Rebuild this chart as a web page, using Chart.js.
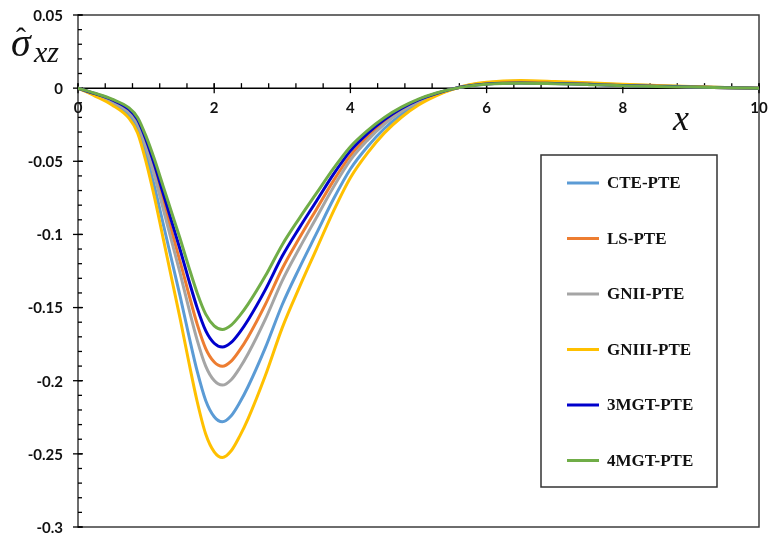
<!DOCTYPE html>
<html>
<head>
<meta charset="utf-8">
<script src="https://cdn.jsdelivr.net/npm/chart.js@4"></script>
<style>
  html, body { margin: 0; padding: 0; background: #fff; }
  #wrap { width: 769px; height: 534px; }
</style>
</head>
<body>
<div id="wrap"><canvas id="myChart" width="769" height="534"></canvas></div>
<script>
// x positions shared by all curves
const xs = [0, 0.25, 0.5, 0.75, 0.875, 1.0, 1.125, 1.25, 1.375, 1.5, 1.625, 1.75, 1.875, 2.0, 2.12, 2.25, 2.375, 2.5, 2.75, 3.0,
            3.25, 3.5, 3.75, 4.0, 4.25, 4.5, 4.75, 5.0, 5.25, 5.5, 5.75, 6.0, 6.5, 7.0, 7.5, 8.0, 8.5, 9.0, 9.5, 10];

const ctePte  = [0, -0.0048, -0.0104, -0.0187, -0.0276, -0.0456, -0.0677, -0.0926, -0.1175, -0.1423, -0.1686, -0.1935, -0.2135, -0.2246, -0.2280, -0.2239, -0.2149, -0.2038, -0.1776, -0.1479,
                 -0.1230, -0.0995, -0.0760, -0.0553, -0.0401, -0.0276, -0.0180, -0.0104, -0.0048, -0.0007, 0.0021, 0.0037, 0.0047, 0.0041, 0.0033, 0.0023, 0.0017, 0.0010, 0.0004, 0];
const lsPte   = [0, -0.0040, -0.0086, -0.0156, -0.0230, -0.0380, -0.0564, -0.0772, -0.0979, -0.1187, -0.1405, -0.1613, -0.1780, -0.1872, -0.1901, -0.1866, -0.1791, -0.1699, -0.1480, -0.1233,
                 -0.1025, -0.0829, -0.0634, -0.0461, -0.0334, -0.0230, -0.0150, -0.0086, -0.0040, -0.0006, 0.0017, 0.0031, 0.0039, 0.0035, 0.0028, 0.0020, 0.0014, 0.0008, 0.0003, 0];
const gn2Pte  = [0, -0.0043, -0.0092, -0.0166, -0.0246, -0.0406, -0.0603, -0.0824, -0.1046, -0.1267, -0.1501, -0.1722, -0.1900, -0.1999, -0.2030, -0.1993, -0.1913, -0.1814, -0.1581, -0.1316,
                 -0.1095, -0.0886, -0.0677, -0.0492, -0.0357, -0.0246, -0.0160, -0.0092, -0.0043, -0.0006, 0.0018, 0.0033, 0.0042, 0.0037, 0.0030, 0.0021, 0.0015, 0.0009, 0.0004, 0];
const gn3Pte  = [0, -0.0054, -0.0115, -0.0207, -0.0306, -0.0505, -0.0750, -0.1025, -0.1301, -0.1576, -0.1867, -0.2142, -0.2364, -0.2486, -0.2525, -0.2479, -0.2379, -0.2257, -0.1966, -0.1637,
                 -0.1362, -0.1102, -0.0842, -0.0612, -0.0444, -0.0306, -0.0199, -0.0115, -0.0054, -0.0008, 0.0023, 0.0041, 0.0052, 0.0046, 0.0037, 0.0026, 0.0018, 0.0011, 0.0005, 0];
const mgt3Pte = [0, -0.0038, -0.0080, -0.0145, -0.0215, -0.0354, -0.0526, -0.0719, -0.0912, -0.1105, -0.1309, -0.1502, -0.1658, -0.1744, -0.1770, -0.1738, -0.1669, -0.1583, -0.1379, -0.1148,
                 -0.0955, -0.0773, -0.0590, -0.0429, -0.0311, -0.0215, -0.0139, -0.0080, -0.0038, -0.0005, 0.0016, 0.0029, 0.0036, 0.0032, 0.0026, 0.0018, 0.0013, 0.0008, 0.0003, 0];
const mgt4Pte = [0, -0.0035, -0.0075, -0.0135, -0.0200, -0.0330, -0.0490, -0.0670, -0.0850, -0.1030, -0.1220, -0.1400, -0.1545, -0.1625, -0.1650, -0.1620, -0.1555, -0.1475, -0.1285, -0.1070,
                 -0.0890, -0.0720, -0.0550, -0.0400, -0.0290, -0.0200, -0.0130, -0.0075, -0.0035, -0.0005, 0.0015, 0.0027, 0.0034, 0.0030, 0.0024, 0.0017, 0.0012, 0.0007, 0.0003, 0];

const seriesNames  = ['CTE-PTE', 'LS-PTE', 'GNII-PTE', 'GNIII-PTE', '3MGT-PTE', '4MGT-PTE'];
const seriesValues = [ctePte, lsPte, gn2Pte, gn3Pte, mgt3Pte, mgt4Pte];
const seriesColors = ['#5B9BD5', '#ED7D31', '#A5A5A5', '#FFC000', '#0000CC', '#70AD47'];

const xTicks = [0, 2, 4, 6, 8, 10];
const xTickLabels = ['0', '2', '4', '6', '8', '10'];
const yTicks = [0.05, 0, -0.05, -0.1, -0.15, -0.2, -0.25, -0.3];
const yTickLabels = ['0.05', '0', '-0.05', '-0.1', '-0.15', '-0.2', '-0.25', '-0.3'];
const xMinorStep = 0.4;
const yMinorStep = 0.01;

const tickFont = 'bold 15px Lato';

// frame, axis at y = 0, ticks, titles
const axesPlugin = {
    id: 'axesPlugin',
    beforeDatasetsDraw(chart) {
        const { ctx, chartArea: a, scales: { x, y } } = chart;
        ctx.save();
        ctx.strokeStyle = '#3c3c3c';
        ctx.lineWidth = 1.5;
        ctx.strokeRect(a.left, a.top, a.right - a.left, a.bottom - a.top);

        const y0 = y.getPixelForValue(0);
        ctx.strokeStyle = '#000';
        ctx.beginPath();
        ctx.moveTo(a.left, y0);
        ctx.lineTo(a.right, y0);
        ctx.stroke();

        // x ticks
        ctx.lineWidth = 1.3;
        for (let i = 0; i * xMinorStep <= 10.0001; i++) {
            const px = x.getPixelForValue(i * xMinorStep);
            ctx.beginPath();
            ctx.moveTo(px, y0);
            ctx.lineTo(px, y0 - 5);
            ctx.stroke();
        }
        xTicks.forEach(v => {
            const px = x.getPixelForValue(v);
            ctx.beginPath();
            ctx.moveTo(px, y0 - 5);
            ctx.lineTo(px, y0 + 5);
            ctx.stroke();
        });

        // y ticks
        for (let i = 0; i <= 35; i++) {
            const py = y.getPixelForValue(0.05 - i * yMinorStep);
            ctx.beginPath();
            ctx.moveTo(a.left, py);
            ctx.lineTo(a.left + 4, py);
            ctx.stroke();
        }
        yTicks.forEach(v => {
            const py = y.getPixelForValue(v);
            ctx.beginPath();
            ctx.moveTo(a.left - 5, py);
            ctx.lineTo(a.left + 5, py);
            ctx.stroke();
        });

        ctx.fillStyle = '#111';
        ctx.font = tickFont;
        ctx.textAlign = 'right';
        ctx.textBaseline = 'middle';
        yTicks.forEach((v, i) => ctx.fillText(yTickLabels[i], a.left - 15, y.getPixelForValue(v) + 1));

        ctx.textAlign = 'center';
        xTicks.forEach((v, i) => ctx.fillText(xTickLabels[i], x.getPixelForValue(v), y0 + 20));

        // axis titles
        ctx.font = 'italic 36px "Liberation Serif"';
        ctx.textBaseline = 'alphabetic';
        ctx.fillText('x', 681, 130);

        ctx.textAlign = 'left';
        ctx.font = 'italic 40px "Liberation Serif"';
        ctx.fillText('σ', 11, 56);
        ctx.font = '30px "Liberation Serif"';
        ctx.fillText('ˆ', 16, 48);
        ctx.font = 'italic 30px "Liberation Serif"';
        ctx.fillText('xz', 34, 62);
        ctx.restore();
    },
    afterDraw(chart) {
        const { ctx } = chart;
        ctx.save();
        ctx.fillStyle = '#fff';
        ctx.fillRect(541, 155, 176, 332);
        ctx.strokeStyle = '#333';
        ctx.lineWidth = 1.5;
        ctx.strokeRect(541, 155, 176, 332);
        ctx.font = 'bold 17px "Liberation Serif"';
        ctx.textAlign = 'left';
        ctx.textBaseline = 'middle';
        seriesNames.forEach((name, i) => {
            const cy = 183 + i * 55.5;
            ctx.strokeStyle = seriesColors[i];
            ctx.lineWidth = 3;
            ctx.beginPath();
            ctx.moveTo(567, cy);
            ctx.lineTo(599, cy);
            ctx.stroke();
            ctx.fillStyle = '#111';
            ctx.fillText(name, 607, cy + 1);
        });
        ctx.restore();
    }
};

const datasets = seriesNames.map((name, i) => ({
    label: name,
    data: xs.map((xv, j) => ({ x: xv, y: seriesValues[i][j] })),
    borderColor: seriesColors[i],
    borderWidth: 3,
    pointRadius: 0,
    fill: false,
    cubicInterpolationMode: 'monotone',
    order: seriesNames.length - i
}));

new Chart(document.getElementById('myChart'), {
    type: 'line',
    data: { datasets },
    options: {
        responsive: false,
        animation: false,
        devicePixelRatio: 1,
        layout: { padding: { left: 78, right: 10, top: 15, bottom: 7 } },
        scales: {
            x: { type: 'linear', min: 0, max: 10, display: false },
            y: { type: 'linear', min: -0.3, max: 0.05, display: false }
        },
        plugins: {
            legend: { display: false },
            tooltip: { enabled: false }
        }
    },
    plugins: [axesPlugin]
});
</script>
</body>
</html>
